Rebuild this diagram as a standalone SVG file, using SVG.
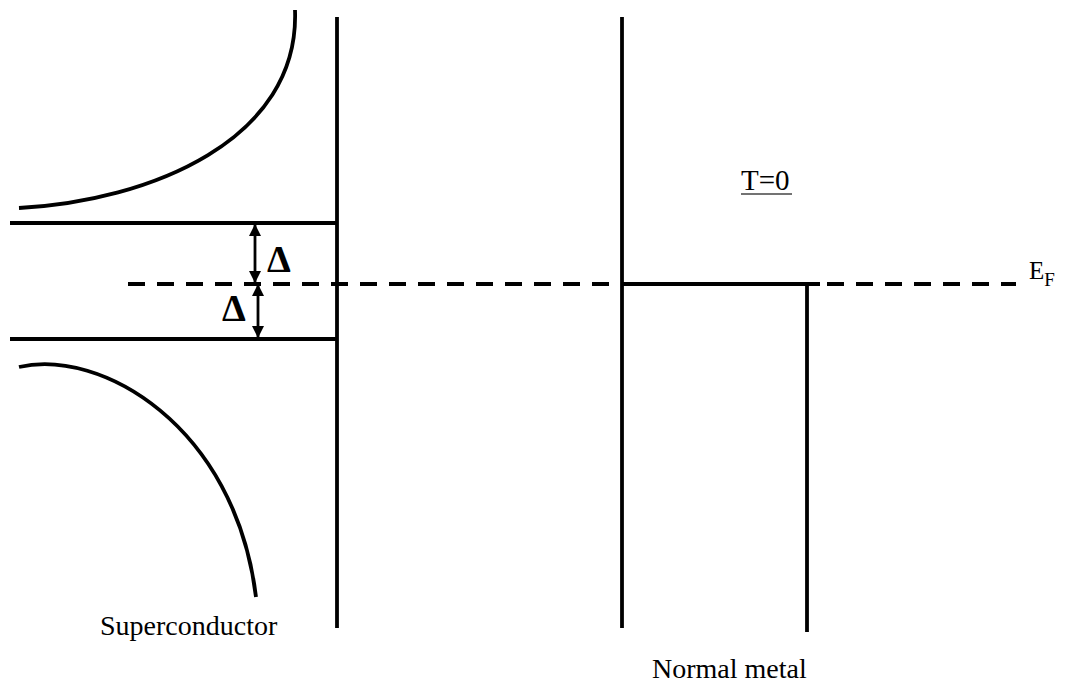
<svg xmlns="http://www.w3.org/2000/svg" width="1065" height="687" viewBox="0 0 1065 687">
<defs>
<marker id="ah" viewBox="0 0 12 14" refX="12" refY="7" markerWidth="12" markerHeight="14" markerUnits="userSpaceOnUse" orient="auto-start-reverse">
<path d="M0,1 L12,7 L0,13 Z" fill="#000"/>
</marker>
<style>
.ln{stroke:#000;stroke-width:3.8;fill:none}
.dash{stroke:#000;stroke-width:3.8;fill:none;stroke-dasharray:17 12}
.arr{stroke:#000;stroke-width:2.8;fill:none}
</style>
</defs>
<rect width="1065" height="687" fill="#fff"/>
<g id="superconductor">
<path class="ln" d="M19,208 C150,201 300,140 295,10"/>
<path class="ln" d="M19,367 C100,348 235,425 256,597"/>
<line class="ln" x1="337" y1="17" x2="337" y2="628"/>
<line class="ln" x1="10" y1="223" x2="337" y2="223"/>
<line class="ln" x1="10" y1="339" x2="337" y2="339"/>
<text x="100" y="635" font-family="Liberation Serif, DejaVu Serif, serif" font-size="28" fill="#000">Superconductor</text>
</g>
<g id="gap">
<line class="arr" x1="255" y1="224" x2="255" y2="283" marker-start="url(#ah)" marker-end="url(#ah)"/>
<line class="arr" x1="258" y1="284" x2="258" y2="338" marker-start="url(#ah)" marker-end="url(#ah)"/>
<text x="267" y="272" font-family="Liberation Serif, DejaVu Serif, serif" font-weight="bold" font-size="38" fill="#000">Δ</text>
<text x="222" y="321" font-family="Liberation Serif, DejaVu Serif, serif" font-weight="bold" font-size="38" fill="#000">Δ</text>
</g>
<g id="normal-metal">
<line class="ln" x1="622" y1="17" x2="622" y2="628"/>
<line class="ln" x1="622" y1="284" x2="820" y2="284"/>
<line class="ln" x1="807" y1="284" x2="807" y2="632"/>
<text x="652" y="678" font-family="Liberation Serif, DejaVu Serif, serif" font-size="28" fill="#000">Normal metal</text>
<text x="741" y="190" font-family="Liberation Serif, DejaVu Serif, serif" font-size="29" fill="#000">T=0</text>
<line x1="741" y1="194" x2="792" y2="194" stroke="#444" stroke-width="1.5"/>
</g>
<g id="connectors">
<line class="dash" x1="128" y1="284" x2="622" y2="284"/>
<line class="dash" x1="827" y1="284" x2="1016" y2="284"/>
</g>
<g id="fermi-label">
<text x="1029" y="279" font-family="Liberation Serif, DejaVu Serif, serif" font-size="25" fill="#000">E<tspan font-size="19" dy="7">F</tspan></text>
</g>
</svg>
